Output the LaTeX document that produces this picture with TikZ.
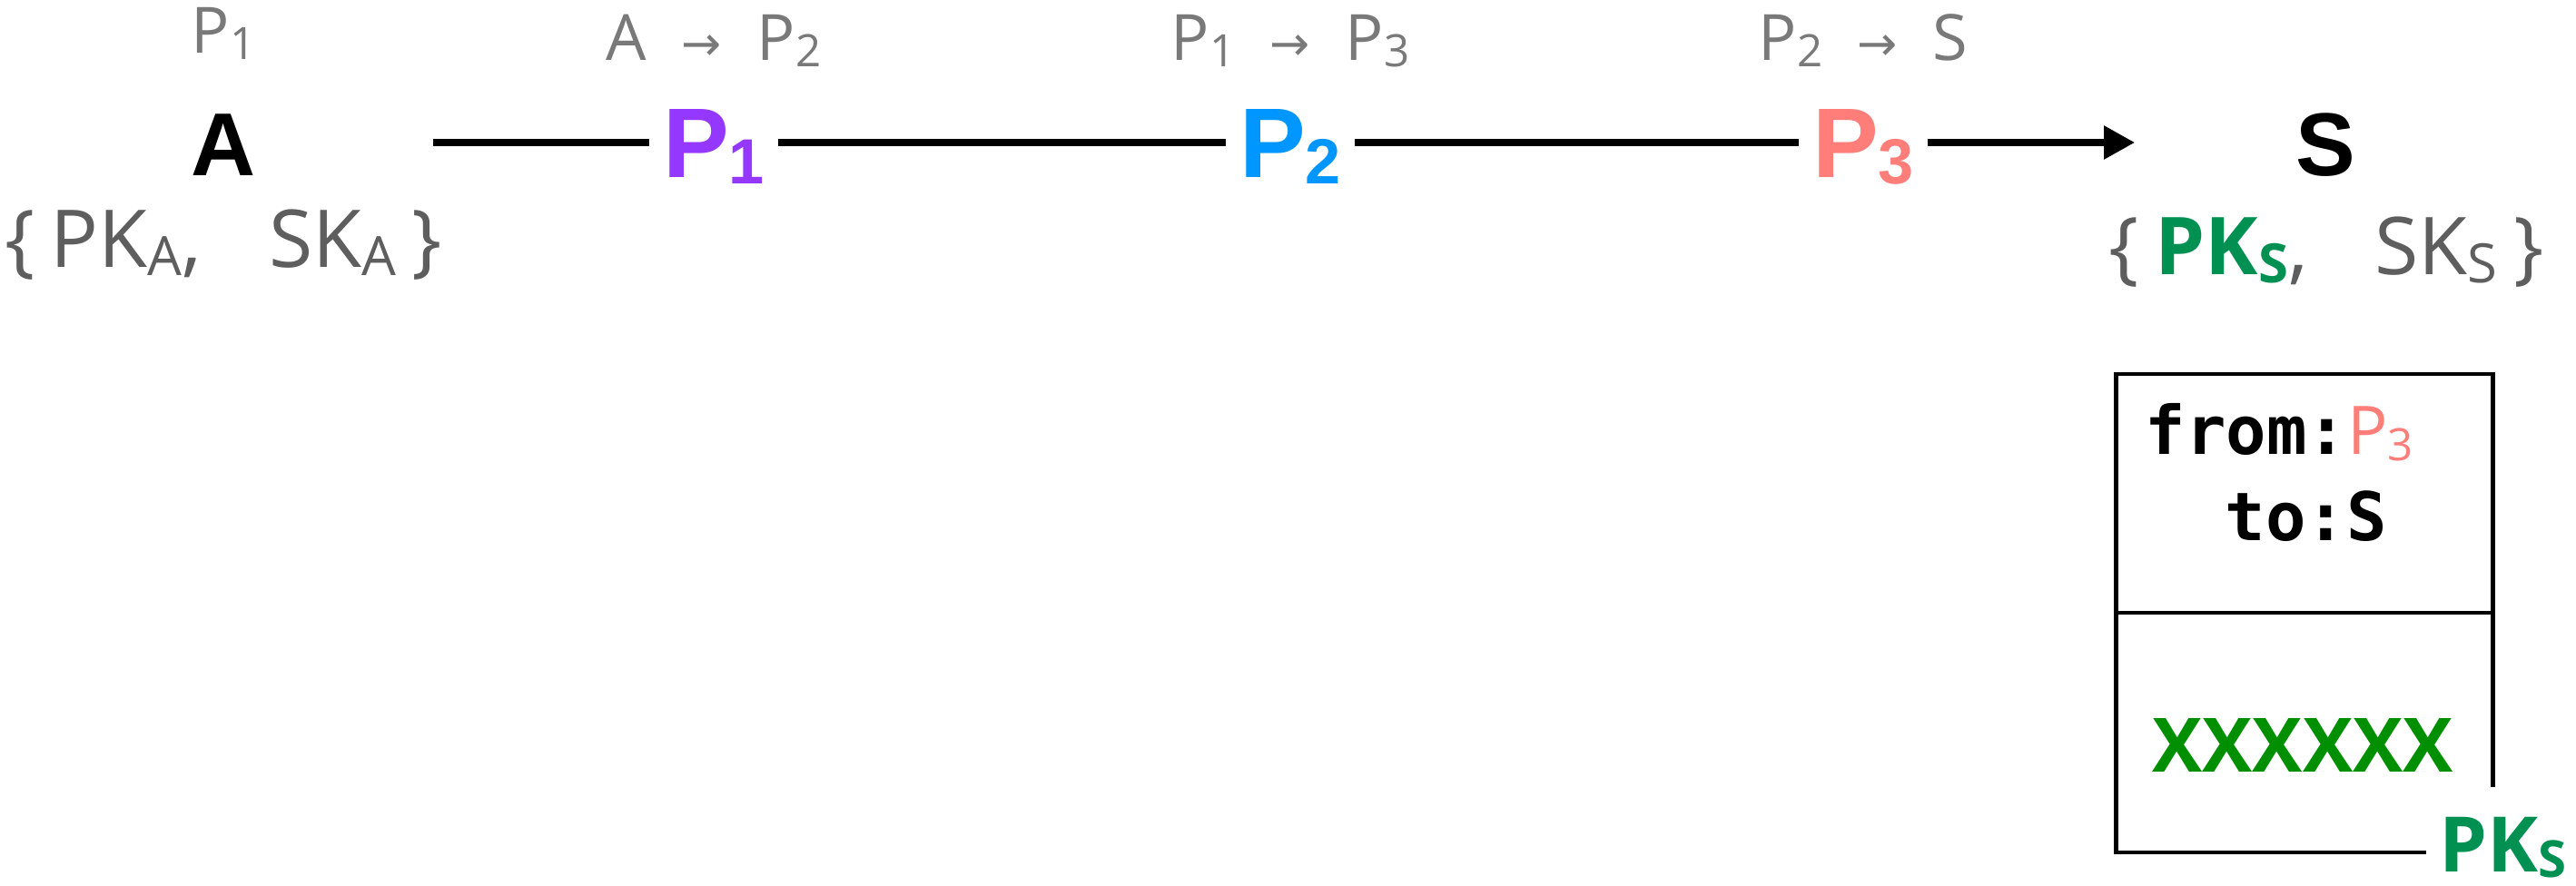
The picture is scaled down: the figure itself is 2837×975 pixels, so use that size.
\documentclass[tikz,border=0pt]{standalone}
\usepackage{fontspec}
\setmainfont{Open Sans}
\newfontfamily\hopfont{Liberation Sans}
\newfontfamily\codefont{DejaVu Sans Mono}
\newfontfamily\arrowglyph{DejaVu Sans}
\usepackage{tikz}
\usetikzlibrary{arrows.meta,positioning,calc}
\definecolor{Grape}{HTML}{9437FF}
\definecolor{Aqua}{HTML}{0096FF}
\definecolor{Salmon}{HTML}{FF7E79}
\definecolor{Clover}{HTML}{008F00}
\definecolor{Moss}{HTML}{009051}
\definecolor{Steel}{HTML}{797979}
\definecolor{Iron}{HTML}{5E5E5E}
\newcommand{\hopsub}[1]{\raisebox{-2pt}{\fontsize{20}{20}\selectfont #1}}
\newcommand{\lblsub}[1]{\raisebox{-2pt}{\fontsize{14}{14}\selectfont #1}}
\newcommand{\keysub}[1]{\raisebox{-2.6pt}{\fontsize{17}{17}\selectfont #1}}
\newcommand{\hoparrow}{\hspace{11pt}{\arrowglyph\fontsize{15}{15}\selectfont →}\hspace{11pt}}
\newcommand{\keypair}[2]{\{\hspace{5pt}#1,\hspace{21pt}#2\hspace{5pt}\}}
\tikzset{
    hop/.style={
        font=\hopfont\bfseries\fontsize{31}{31}\selectfont, text=#1,
        inner sep=4pt, text height=22pt, text depth=0pt
    },
    endpoint/.style={
        font=\hopfont\bfseries\fontsize{28}{28}\selectfont,
        anchor=base, inner sep=0pt
    },
    hoplabel/.style={
        font=\fontsize{20}{20}\selectfont, text=Steel, anchor=base, inner sep=0pt
    },
    keyset/.style={
        font=\fontsize{25}{25}\selectfont, text=Iron, anchor=base, inner sep=0pt
    },
    codeline/.style={
        font=\codefont\bfseries\fontsize{21}{21}\selectfont,
        anchor=base west, inner sep=0pt
    },
    hopline/.style={line width=2.3pt},
    boxline/.style={line width=1.4pt},
}

\begin{document}
\begin{tikzpicture}[x=0.01cm, y=-0.01cm]
    \useasboundingbox (0,0) rectangle (2837,975);

    % Route: sender, hops, server
    \node[endpoint] (a) at (246,193) {A};
    \node[hop=Grape] (p1) at (786,157) {P\hopsub{1}};
    \node[hop=Aqua] (p2) at (1421,157) {P\hopsub{2}};
    \node[hop=Salmon] (p3) at (2052,157) {P\hopsub{3}};
    \node[endpoint, minimum width=4.18cm] (s) at (2561,193) {S};

    % Key pairs
    \node[keyset] (keyA) at (246,294) {\keypair{PK\keysub{A}}{SK\keysub{A}}};
    \node[keyset] (keyS) at (2562,302) {\keypair{{\bfseries\color{Moss}PK\keysub{S}}}{SK\keysub{S}}};

    % Hop labels
    \node[hoplabel] (lbl0) at (a |- 0,58) {P\lblsub{1}};
    \node[hoplabel] (lbl1) at (p1 |- 0,66) {A\hoparrow P\lblsub{2}};
    \node[hoplabel] (lbl2) at (p2 |- 0,66) {P\lblsub{1}\hoparrow P\lblsub{3}};
    \node[hoplabel] (lbl3) at (p3 |- 0,66) {P\lblsub{2}\hoparrow S};

    % Links
    \draw[hopline] ([xshift=-3pt]keyA.east |- p1) -- (p1);
    \draw[hopline] (p1) -- (p2);
    \draw[hopline] (p2) -- (p3);
    \draw[hopline, -{Triangle[length=9.7pt, width=10pt]}] (p3) -- (p3 -| s.west);

    % Packet
    \draw[boxline] (2672,939) -- (2330,939) -- (2330,412) -- (2745,412) -- (2745,867);
    \draw[boxline] (2330,675) -- (2745,675);
    \node[codeline] (fromline) at (2362,500) {from:{\normalfont\fontsize{21}{21}\selectfont\color{Salmon}P\lblsub{3}}};
    \node[codeline] (toline) at (2450,595) {to:S};
    \node[font=\bfseries\fontsize{23.5}{23.5}\selectfont, text=Clover, anchor=base, inner sep=0pt] (payload) at (2536,850) {XXXXXX};
    \node[font=\bfseries\fontsize{24}{24}\selectfont, text=Moss, anchor=base west, inner sep=0pt] (pk) at (2686,960) {PK\raisebox{-1.7pt}{\fontsize{16}{16}\selectfont S}};
\end{tikzpicture}
\end{document}
